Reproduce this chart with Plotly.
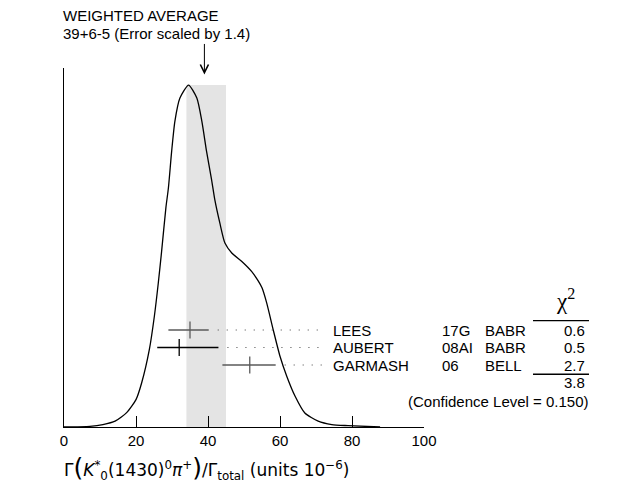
import plotly.graph_objects as go

# ideogram curve (x in units of 1e-6, height relative to the peak)
curve_x = [0, 7.2, 10.8, 14.2, 17.4, 20.0, 21.6, 23.7, 25.1, 26.2, 27.1, 28.3, 29.0, 29.9, 30.8, 32.2, 34.6,
           36.9, 38.3, 39.6, 41.0, 41.9, 43.3, 44.7, 46.6, 49.4, 52.1, 53.9, 55.0, 56.3, 58.1, 60.0, 61.9,
           64.2, 66.9, 70.6, 74.4, 78.9, 87.8]
curve_y = [0, 0.002, 0.007, 0.017, 0.042, 0.080, 0.130, 0.226, 0.324, 0.422, 0.512, 0.641, 0.699, 0.806, 0.894, 0.962, 1.0,
           0.962, 0.894, 0.806, 0.723, 0.664, 0.596, 0.538, 0.509, 0.484, 0.455, 0.428, 0.407, 0.363, 0.285, 0.207, 0.148,
           0.090, 0.041, 0.017, 0.007, 0.004, 0]

# measurements
names = ["LEES", "AUBERT", "GARMASH"]
refs = ["17G", "08AI", "06"]
experiments = ["BABR", "BABR", "BELL"]
values = [35.0, 32.0, 51.6]
err_minus = [6.0, 6.1, 7.6]
err_plus = [5.2, 10.9, 7.2]
chi2 = [0.6, 0.5, 2.7]
bar_colors = ["#5a5a5a", "black", "#5a5a5a"]

# weighted average
avg = 39
avg_minus = 5
avg_plus = 6
scale_factor = 1.4
chi2_total = 3.8
conf_level = 0.150

tick_vals = [0, 20, 40, 60, 80, 100]

FONT = "Liberation Sans, Arial, sans-serif"

fig = go.Figure()

# ideogram
fig.add_trace(go.Scatter(
    x=curve_x, y=curve_y, mode="lines",
    line=dict(color="black", width=1.3, shape="spline", smoothing=0.6),
    hoverinfo="skip"
))

# measurement rows (y2 = row index)
for i, name in enumerate(names):
    # dotted leader to the label
    fig.add_trace(go.Scatter(
        x=[values[i] + err_plus[i] + 2.5, 72.5], y=[i, i], yaxis="y2", mode="lines",
        line=dict(color="#444", width=1, dash="1px,8px"), hoverinfo="skip"
    ))
    fig.add_trace(go.Scatter(
        x=[values[i]], y=[i], yaxis="y2", mode="markers",
        marker=dict(symbol="line-ns", size=12, line=dict(color=bar_colors[i], width=1.3)),
        error_x=dict(type="data", symmetric=False, array=[err_plus[i]], arrayminus=[err_minus[i]],
                     color=bar_colors[i], thickness=1.3, width=0),
        hoverinfo="skip"
    ))

annotations = []
for i, name in enumerate(names):
    annotations.append(dict(x=0.7417, y=i, xref="paper", yref="y2", text=name,
                            xanchor="left", yanchor="middle", showarrow=False))
    annotations.append(dict(x=1.0444, y=i, xref="paper", yref="y2", text=refs[i],
                            xanchor="left", yanchor="middle", showarrow=False))
    annotations.append(dict(x=1.1639, y=i, xref="paper", yref="y2", text=experiments[i],
                            xanchor="left", yanchor="middle", showarrow=False))
    annotations.append(dict(x=1.4167, y=i, xref="paper", yref="y2", text=f"{chi2[i]:.1f}",
                            xanchor="center", yanchor="middle", showarrow=False))

annotations += [
    dict(x=1.3917, y=-1.75, xref="paper", yref="y2", text="χ<sup>2</sup>",
         xanchor="center", yanchor="middle",
         font=dict(family="Liberation Serif", size=23), showarrow=False),
    dict(x=1.4167, y=3.0, xref="paper", yref="y2", text=f"{chi2_total:.1f}",
         xanchor="center", yanchor="middle", showarrow=False),
    dict(x=1.2056, y=4.1, xref="paper", yref="y2", text=f"(Confidence Level = {conf_level:.3f})",
         xanchor="center", yanchor="middle", showarrow=False),
    dict(x=-0.0083, y=1.1457, xref="paper", yref="paper", text="WEIGHTED AVERAGE",
         xanchor="left", yanchor="middle", showarrow=False),
    dict(x=-0.0083, y=1.0967, xref="paper", yref="paper",
         text=f"{avg}+{avg_plus}-{avg_minus} (Error scaled by {scale_factor})",
         xanchor="left", yanchor="middle", showarrow=False),
    # arrow to the average
    dict(x=avg, y=0.982, xref="x", yref="paper", text="", showarrow=True,
         ax=0, ay=-32, arrowhead=5, arrowsize=1.6, arrowwidth=1, arrowcolor="black"),
    # x axis title
    dict(x=-0.006, y=-0.114, xref="paper", yref="paper", xanchor="left", yanchor="middle",
         text='Γ<span style="font-size:25px">(</span><i>K</i><sup>*</sup><sub>0</sub>(1430)<sup>0</sup>'
              '<i>π</i><sup>+</sup><span style="font-size:25px">)</span>/Γ<sub>total</sub> (units 10<sup>−6</sup>)',
         font=dict(family="DejaVu Sans", size=17), showarrow=False),
]

shapes = [
    # error band of the average
    dict(type="rect", xref="x", yref="y", x0=avg - avg_minus, x1=avg + avg_plus, y0=0, y1=max(curve_y),
         fillcolor="#e4e4e4", line=dict(width=0), layer="below"),
    # chi2 column rules
    dict(type="line", xref="paper", yref="y2", x0=1.3028, x1=1.4583, y0=-0.53, y1=-0.53,
         line=dict(color="black", width=1.3)),
    dict(type="line", xref="paper", yref="y2", x0=1.3028, x1=1.4583, y0=2.53, y1=2.53,
         line=dict(color="black", width=1.3)),
]

# the page puts an 8px body margin around the figure
fig.update_layout(
    width=631, height=481,
    margin=dict(l=56, r=215, t=60, b=62),
    paper_bgcolor="white", plot_bgcolor="white",
    showlegend=False,
    font=dict(family=FONT, size=15, color="black"),
    xaxis=dict(range=[0, 100], tickvals=tick_vals, ticks="inside", ticklen=11, tickwidth=1.3,
               tickcolor="black", showline=True, linecolor="black", linewidth=1.3,
               showgrid=False, zeroline=False, tickfont=dict(size=15)),
    yaxis=dict(range=[0, 1.05], showline=True, linecolor="black", linewidth=1.3,
               showticklabels=False, ticks="", showgrid=False, zeroline=False),
    yaxis2=dict(range=[5.543, -14.971], overlaying="y", visible=False),
    annotations=annotations,
    shapes=shapes,
)

fig.write_html("out.html")
